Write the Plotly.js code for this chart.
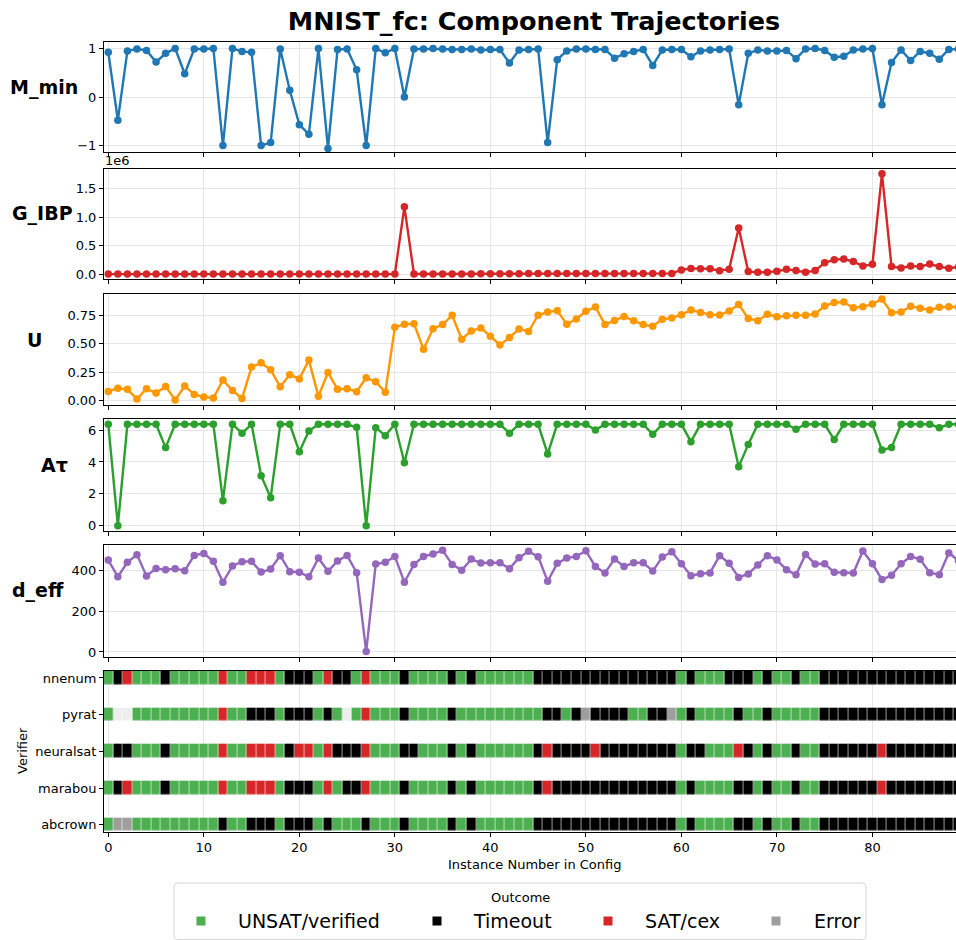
<!DOCTYPE html>
<html>
<head>
<meta charset="utf-8">
<script src="https://cdn.plot.ly/plotly-3.0.1.min.js"></script>
<style>html,body{margin:0;padding:0;background:#fff;}#chart{width:956px;height:940px;}</style>
</head>
<body>
<div id="chart"></div>
<script>
// ---------------- DATA ----------------
const instances = [0,1,2,3,4,5,6,7,8,9,10,11,12,13,14,15,16,17,18,19,20,21,22,23,24,25,26,27,28,29,
30,31,32,33,34,35,36,37,38,39,40,41,42,43,44,45,46,47,48,49,50,51,52,53,54,55,56,57,58,59,
60,61,62,63,64,65,66,67,68,69,70,71,72,73,74,75,76,77,78,79,80,81,82,83,84,85,86,87,88,89];

const M_min = [0.92,-0.48,0.95,0.99,0.96,0.72,0.90,1.0,0.48,0.99,
0.99,1.0,-1.0,1.0,0.94,0.92,-1.0,-0.94,0.99,0.14,
-0.57,-0.77,1.0,-1.06,0.98,0.99,0.56,-1.0,1.0,0.91,
1.0,0.0,0.99,0.99,1.0,0.99,0.98,0.98,0.99,0.97,
0.98,0.98,0.70,0.97,0.98,0.99,-0.94,0.77,0.95,0.99,
0.99,0.98,0.98,0.80,0.89,0.94,0.98,0.65,0.97,0.98,
0.98,0.83,0.95,0.97,0.98,0.99,-0.16,0.90,0.97,0.95,
0.95,0.96,0.79,0.99,1.0,0.96,0.82,0.84,0.97,0.99,
1.0,-0.16,0.71,0.97,0.75,0.94,0.90,0.78,0.98,0.99];

const G_IBP = [3200,2800,3500,2600,3100,2900,3300,2700,3000,3400,
2800,3100,2600,3300,2900,3000,3200,2700,3100,2900,
3300,2800,3000,3200,2600,3100,2900,3400,2800,3000,
3100,1180000,4000,4500,5200,4800,6000,5500,6500,7000,
9000,10500,9800,11000,12000,11500,12500,11800,12200,13000,
12000,12800,13500,12500,13000,12000,13500,12800,13200,15000,
76000,100000,98000,97000,62000,88000,810000,47000,36000,37000,
52000,87000,64000,36000,64000,200000,256000,267000,222000,145000,
174000,1760000,134000,110000,145000,134000,180000,134000,105000,130000];

const U = [0.081,0.108,0.099,0.015,0.105,0.067,0.125,0.006,0.128,0.055,
0.032,0.023,0.180,0.090,0.020,0.294,0.331,0.270,0.122,0.227,
0.190,0.355,0.038,0.247,0.100,0.105,0.078,0.200,0.166,0.073,
0.642,0.670,0.674,0.450,0.630,0.666,0.747,0.538,0.610,0.637,
0.564,0.488,0.552,0.628,0.605,0.748,0.776,0.788,0.669,0.715,
0.782,0.820,0.666,0.703,0.738,0.700,0.666,0.651,0.712,0.724,
0.753,0.794,0.773,0.753,0.750,0.785,0.843,0.720,0.700,0.756,
0.735,0.744,0.747,0.747,0.759,0.828,0.860,0.863,0.814,0.823,
0.846,0.890,0.770,0.776,0.826,0.810,0.794,0.817,0.823,0.820];

const A_tau = [6.36,0.0,6.36,6.36,6.36,6.36,4.90,6.36,6.36,6.36,
6.36,6.36,1.57,6.36,5.80,6.36,3.14,1.76,6.36,6.36,
4.64,5.94,6.36,6.36,6.36,6.36,6.17,0.0,6.15,5.65,
6.36,3.95,6.36,6.36,6.36,6.36,6.36,6.36,6.36,6.36,
6.36,6.36,5.80,6.36,6.36,6.36,4.50,6.36,6.36,6.36,
6.36,6.00,6.36,6.36,6.36,6.36,6.36,5.73,6.36,6.36,
6.36,5.27,6.36,6.36,6.36,6.36,3.70,5.10,6.36,6.36,
6.36,6.36,6.05,6.36,6.36,6.36,5.40,6.36,6.36,6.36,
6.36,4.75,4.90,6.36,6.36,6.36,6.36,6.15,6.36,6.36];

const d_eff = [452,370,441,479,374,411,405,410,400,475,
485,446,343,423,444,446,393,408,474,395,
392,370,462,397,448,475,390,2,433,441,
470,343,430,470,482,500,431,402,457,438,
439,439,410,464,495,469,348,436,462,470,
498,420,389,457,420,439,439,398,467,493,
434,375,385,389,474,436,367,384,428,474,
452,405,380,480,433,434,392,390,389,497,
434,356,377,434,470,456,390,380,487,450];

// Outcome codes: 0 UNSAT/verified, 1 Timeout, 2 SAT/cex, 3 Error, 4 no result
const outcomeNames = ['UNSAT/verified','Timeout','SAT/cex','Error'];
const outcomeColors = ['#4caf50','#000000','#d62728','#9e9e9e','#eeeeee'];
const verifiers = ['nnenum','pyrat','neuralsat','marabou','abcrown'];

const nnenum = [0,1,2,0,0,0,1,0,0,0, 0,0,2,0,0,2,2,2,0,1, 1,1,0,2,1,1,0,2,0,0,
0,1,0,0,0,0,1,0,1,0, 0,0,0,0,0,1,1,1,1,1, 1,1,1,1,1,1,1,1,1,1,
0,1,0,0,0,1,1,1,0,1, 0,0,1,0,0,1,1,1,1,1, 1,1,1,1,1,1,1,1,1,1];
const pyrat = [0,4,4,0,0,0,0,0,0,0, 0,0,2,0,0,1,1,1,0,1, 1,1,0,1,0,4,0,2,0,0,
0,1,0,0,0,0,1,0,0,0, 0,0,0,0,0,0,1,1,0,1, 3,1,1,1,1,0,0,1,1,3,
0,1,0,0,0,0,1,0,0,1, 0,0,0,0,0,1,1,1,1,1, 1,1,1,1,1,1,1,1,1,1];
const neuralsat = [0,1,1,0,0,0,1,0,0,0, 0,0,2,0,0,2,2,2,0,1, 2,2,0,2,1,1,1,2,0,0,
0,1,1,0,0,0,1,0,1,0, 0,0,0,0,0,1,2,1,1,1, 1,2,1,1,1,1,1,1,1,1,
0,1,1,0,0,0,2,1,0,1, 0,0,1,0,0,1,1,1,1,1, 1,2,1,1,1,1,1,1,1,1];
const marabou = [0,1,2,0,0,0,1,0,0,0, 0,0,2,0,0,2,2,2,0,1, 1,1,0,2,0,1,1,2,0,0,
0,1,0,0,0,0,1,0,1,0, 0,0,0,0,0,1,2,1,1,1, 1,1,1,1,1,1,1,1,1,1,
0,1,0,0,0,0,1,1,0,1, 0,0,1,0,0,1,1,1,1,1, 1,2,1,1,1,1,1,1,1,1];
const abcrown = [0,3,3,0,0,0,0,0,0,0, 0,0,1,0,0,1,1,1,0,1, 1,1,0,1,0,0,0,1,0,0,
0,1,0,0,0,0,1,0,1,0, 0,0,0,0,0,1,1,1,1,1, 1,1,1,1,1,1,1,1,1,1,
0,1,0,0,0,0,1,1,0,1, 0,0,1,0,0,1,1,1,1,1, 1,1,1,1,1,1,1,1,1,1];

// ---------------- LAYOUT HELPERS ----------------
const W = 956, H = 940;
const P = x => x / W;
const Q = y => 1 - y / H;
const dom = (top, bottom) => [Q(bottom), Q(top)];
const FONT = 'DejaVu Sans';

const panels = [
  {name:'M_min', y:M_min, color:'#1f77b4', top:41.7, bottom:152.3, range:[-1.14,1.14], tickvals:[-1,0,1], ticktext:null, lx:44, ly:87},
  {name:'G_IBP', y:G_IBP, color:'#d62728', top:168.7, bottom:279.3, range:[-88000,1848000], tickvals:[0,500000,1000000,1500000], ticktext:['0.0','0.5','1.0','1.5'], lx:42, ly:213},
  {name:'U', y:U, color:'#ff9800', top:294, bottom:405, range:[-0.038,0.934], tickvals:[0,0.25,0.5,0.75], ticktext:['0.00','0.25','0.50','0.75'], lx:34, ly:340},
  {name:'Aτ', y:A_tau, color:'#2ca02c', top:419.2, bottom:530.8, range:[-0.318,6.68], tickvals:[0,2,4,6], ticktext:null, lx:54, ly:465},
  {name:'d_eff', y:d_eff, color:'#9467bd', top:545.3, bottom:656.6, range:[-22.9,524.9], tickvals:[0,200,400], ticktext:null, lx:38, ly:590}
];
const hm = {top:671, bottom:831.7};
const XRANGE = [-0.45, 88.75];

const axisBase = {
  showline:true, linecolor:'#000', linewidth:1,
  ticks:'outside', ticklen:4, tickwidth:1, tickcolor:'#000',
  showgrid:true, gridcolor:'#e6e6e6', gridwidth:1, zeroline:false,
  tickfont:{family:FONT, size:13, color:'#000'}, fixedrange:true
};

const data = [];
const layout = {
  width:W, height:H, margin:{l:0,r:0,t:0,b:0,pad:0},
  paper_bgcolor:'#fff', plot_bgcolor:'#fff', showlegend:false,
  font:{family:FONT, size:13, color:'#000'},
  title:{text:'<b>MNIST_fc: Component Trajectories</b>', x:P(534), xanchor:'center', y:Q(21), yanchor:'middle',
         font:{family:FONT, size:25.5, color:'#000'}},
  annotations:[], shapes:[]
};

panels.forEach((p, i) => {
  const n = i + 1;
  const xa = n === 1 ? 'x' : 'x' + n;
  const ya = n === 1 ? 'y' : 'y' + n;
  data.push({
    type:'scatter', mode:'lines+markers', x:instances, y:p.y, xaxis:xa, yaxis:ya,
    line:{color:p.color, width:2.4}, marker:{color:p.color, size:7.5}, hoverinfo:'skip'
  });
  const xaxis = Object.assign({}, axisBase, {
    domain:[P(104), 1], anchor:ya, range:XRANGE, tick0:0, dtick:10, showticklabels:false, mirror:true
  });
  if (n !== 1) xaxis.matches = 'x';
  layout['xaxis' + (n === 1 ? '' : n)] = xaxis;
  const yaxis = Object.assign({}, axisBase, {
    domain:dom(p.top, p.bottom), anchor:xa, range:p.range, tickmode:'array', tickvals:p.tickvals, mirror:false
  });
  if (p.ticktext) yaxis.ticktext = p.ticktext;
  layout['yaxis' + (n === 1 ? '' : n)] = yaxis;
  layout.annotations.push({text:'<b>' + p.name + '</b>', xref:'paper', yref:'paper', x:P(p.lx), y:Q(p.ly),
    xanchor:'center', yanchor:'middle', showarrow:false, font:{family:FONT, size:19, color:'#000'}});
});

// offset text for G_IBP
layout.annotations.push({text:'1e6', xref:'paper', yref:'paper', x:P(103), y:Q(160), xanchor:'left', yanchor:'middle',
  showarrow:false, font:{family:FONT, size:13, color:'#000'}});

// heatmap
const zRows = [nnenum, pyrat, neuralsat, marabou, abcrown];
const colorscale = [
  [0,outcomeColors[0]],[0.125,outcomeColors[0]],
  [0.125,outcomeColors[1]],[0.375,outcomeColors[1]],
  [0.375,outcomeColors[2]],[0.625,outcomeColors[2]],
  [0.625,outcomeColors[3]],[0.875,outcomeColors[3]],
  [0.875,outcomeColors[4]],[1,outcomeColors[4]]
];
data.push({
  type:'heatmap', x:instances, y:[0,1,2,3,4], z:zRows, xaxis:'x6', yaxis:'y6',
  zmin:0, zmax:4, colorscale:colorscale, showscale:false, xgap:0.6, ygap:23.3, hoverinfo:'skip'
});
layout.xaxis6 = Object.assign({}, axisBase, {
  domain:[P(104), 1], anchor:'y6', range:XRANGE, tick0:0, dtick:10, showticklabels:true, mirror:true, matches:'x'
});
layout.yaxis6 = Object.assign({}, axisBase, {
  domain:dom(hm.top, hm.bottom), anchor:'x6', range:[4.19,-0.19], tickmode:'array',
  tickvals:[0,1,2,3,4], ticktext:verifiers, showgrid:false, mirror:false
});
layout.annotations.push({text:'Verifier', xref:'paper', yref:'paper', x:P(22), y:Q(751), textangle:-90,
  xanchor:'center', yanchor:'middle', showarrow:false, font:{family:FONT, size:13, color:'#000'}});
layout.annotations.push({text:'Instance Number in Config', xref:'paper', yref:'paper', x:P(534), y:Q(864),
  xanchor:'center', yanchor:'middle', showarrow:false, font:{family:FONT, size:13, color:'#000'}});

// legend (drawn box)
(function(){
  const x0=174, x1=866, y0=883, y1=939.5, r=4;
  const path = `M ${P(x0+r)},${Q(y0)} L ${P(x1-r)},${Q(y0)} Q ${P(x1)},${Q(y0)} ${P(x1)},${Q(y0+r)} ` +
    `L ${P(x1)},${Q(y1-r)} Q ${P(x1)},${Q(y1)} ${P(x1-r)},${Q(y1)} L ${P(x0+r)},${Q(y1)} ` +
    `Q ${P(x0)},${Q(y1)} ${P(x0)},${Q(y1-r)} L ${P(x0)},${Q(y0+r)} Q ${P(x0)},${Q(y0)} ${P(x0+r)},${Q(y0)} Z`;
  layout.shapes.push({type:'path', path:path, xref:'paper', yref:'paper', line:{color:'#d6d6d6', width:1}, fillcolor:'rgba(255,255,255,0.8)', layer:'above'});
  layout.annotations.push({text:'Outcome', xref:'paper', yref:'paper', x:P(520), y:Q(897), xanchor:'center', yanchor:'middle',
    showarrow:false, font:{family:FONT, size:13, color:'#000'}});
  const markerX = [201, 437, 608, 776];
  const textX = [236, 471, 643, 812];
  const yc = 921, s = 4.5;
  outcomeNames.forEach((name, k) => {
    layout.shapes.push({type:'rect', xref:'paper', yref:'paper', x0:P(markerX[k]-s), x1:P(markerX[k]+s), y0:Q(yc+s), y1:Q(yc-s),
      fillcolor:outcomeColors[k], line:{width:0}, layer:'above'});
    layout.annotations.push({text:name, xref:'paper', yref:'paper', x:P(textX[k]), y:Q(yc), xanchor:'left', yanchor:'middle',
      showarrow:false, font:{family:FONT, size:19, color:'#000'}});
  });
})();

Plotly.newPlot('chart', data, layout, {displayModeBar:false, staticPlot:true});
</script>
</body>
</html>
